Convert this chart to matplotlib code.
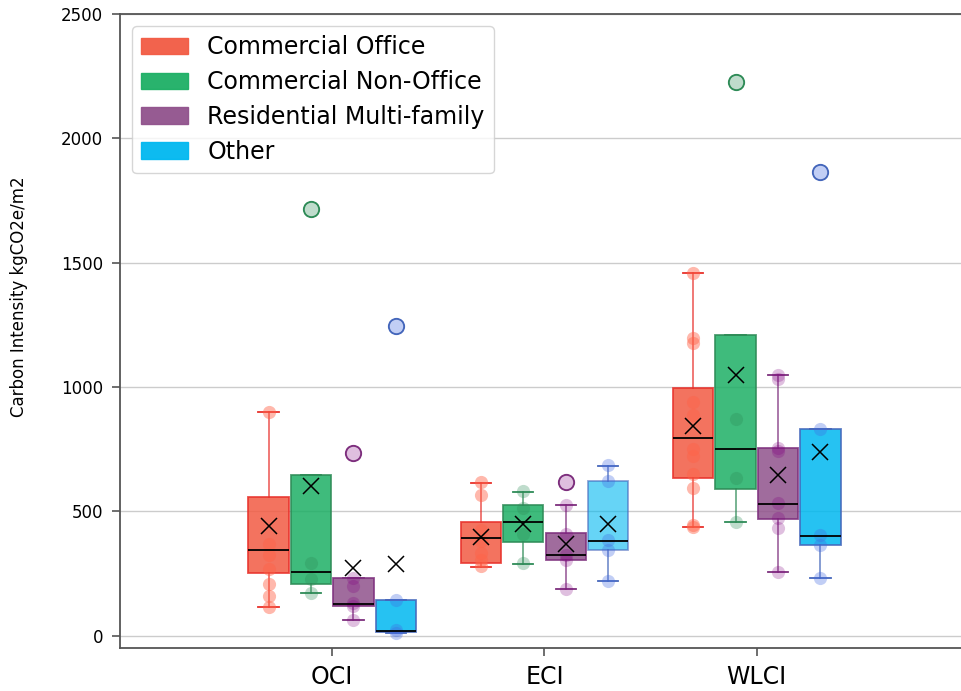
import numpy as np
import matplotlib.pyplot as plt
from matplotlib.patches import Patch

metrics = ['OCI', 'ECI', 'WLCI']
types = ['Commercial Office', 'Commercial Non-Office', 'Residential Multi-family', 'Other']

# box statistics, one row per building type, columns = OCI, ECI, WLCI
med = [[346, 392, 796], [256, 458, 749], [128, 326, 531], [17, 382, 401]]
q1 = [[252, 293, 635], [209, 377, 588], [118, 305, 470], [14, 343, 364]]
q3 = [[557, 458, 997], [644, 527, 1208], [231, 412, 756], [144, 621, 830]]
whislo = [[114, 275, 438], [170, 289, 456], [64, 189, 256], [11, 219, 232]]
whishi = [[900, 615, 1460], [644, 578, 1208], [231, 525, 1050], [144, 684, 830]]
means = [[440, 398, 843], [600, 447, 1047], [272, 369, 644], [286, 450, 738]]
fliers = [[[], [], []],
          [[1715], [], [2228]],
          [[733], [619], []],
          [[1244], [], [1864]]]

# individual buildings
office_pts = [[900, 370, 326, 268, 208, 161, 114],
              [617, 565, 425, 380, 333, 302, 278],
              [1460, 1198, 1176, 939, 886, 752, 722, 651, 595, 444, 438]]
nonoffice_pts = [[1715, 290, 229, 170],
                 [580, 514, 407, 291],
                 [2228, 870, 632, 456]]
multifam_pts = [[733, 233, 201, 132, 118, 64],
                [619, 525, 410, 326, 305, 189],
                [1050, 1030, 756, 742, 534, 474, 434, 256]]
other_pts = [[1244, 144, 22, 12],
             [686, 621, 384, 345, 219],
             [1864, 832, 403, 366, 232]]
points = [office_pts, nonoffice_pts, multifam_pts, other_pts]

face_cols = ['#f25b43', '#1daf65', '#90528c', '#00b8f0']
edge_cols = ['#e8302a', '#2e8b57', '#7d2e7d', '#4466bb']
pt_cols = ['tomato', 'seagreen', 'purple', 'royalblue']
pt_alpha = [0.45, 0.3, 0.25, 0.32]
offsets = [-0.3, -0.1, 0.1, 0.3]

fig = plt.figure(figsize=(9.62, 6.91), dpi=100)
ax = fig.add_axes([120 / 962, 43 / 691, 849 / 962, 634 / 691])

for t in range(4):
    stats = []
    for m in range(3):
        stats.append(dict(med=med[t][m], q1=q1[t][m], q3=q3[t][m],
                          whislo=whislo[t][m], whishi=whishi[t][m],
                          mean=means[t][m], fliers=fliers[t][m]))
    pos = [m + 1 + offsets[t] for m in range(3)]
    bp = ax.bxp(stats, positions=pos, widths=0.19, patch_artist=True,
                showmeans=True, manage_ticks=False,
                boxprops=dict(facecolor=face_cols[t], edgecolor=edge_cols[t],
                              linewidth=1.3, alpha=0.85, zorder=2),
                whiskerprops=dict(color=edge_cols[t], linewidth=1.3, alpha=0.7),
                capprops=dict(color=edge_cols[t], linewidth=1.3),
                medianprops=dict(color='black', linewidth=1.3, zorder=4),
                meanprops=dict(marker='x', markeredgecolor='black',
                               markersize=11, markeredgewidth=1.1, zorder=5),
                flierprops=dict(marker='o', markerfacecolor='white',
                                markeredgecolor=edge_cols[t], markersize=11,
                                markeredgewidth=1.4, zorder=3))
    if t == 3:
        bp['boxes'][1].set_alpha(0.6)
    for m in range(3):
        ys = points[t][m]
        ax.scatter([pos[m]] * len(ys), ys, s=90, color=pt_cols[t],
                   alpha=pt_alpha[t], linewidths=0, zorder=3.5)

ax.set_xlim(0, 4)
ax.set_ylim(-50, 2500)
ax.set_xticks([1, 2, 3])
ax.set_xticklabels(metrics, fontsize=17)
ax.set_yticks(np.arange(0, 2501, 500))
ax.tick_params(axis='y', labelsize=12, length=6, width=1.2, color='#555555', pad=6)
ax.tick_params(axis='x', length=6, width=1.2, color='#555555', pad=6)
ax.yaxis.grid(True, color='#cccccc', linewidth=1)
ax.set_axisbelow(True)
for s in ['left', 'bottom', 'top']:
    ax.spines[s].set_color('#555555')
    ax.spines[s].set_linewidth(1.3)
ax.spines['right'].set_visible(False)

ax.set_ylabel('Carbon Intensity kgCO2e/m2', fontsize=12)
ax.yaxis.set_label_coords(-0.108, 0.554)

handles = [Patch(facecolor=c, edgecolor=c, alpha=0.95) for c in face_cols]
ax.legend(handles, types, loc='upper left', fontsize=17, labelspacing=0.46)

fig.savefig('out.png', dpi=100)
